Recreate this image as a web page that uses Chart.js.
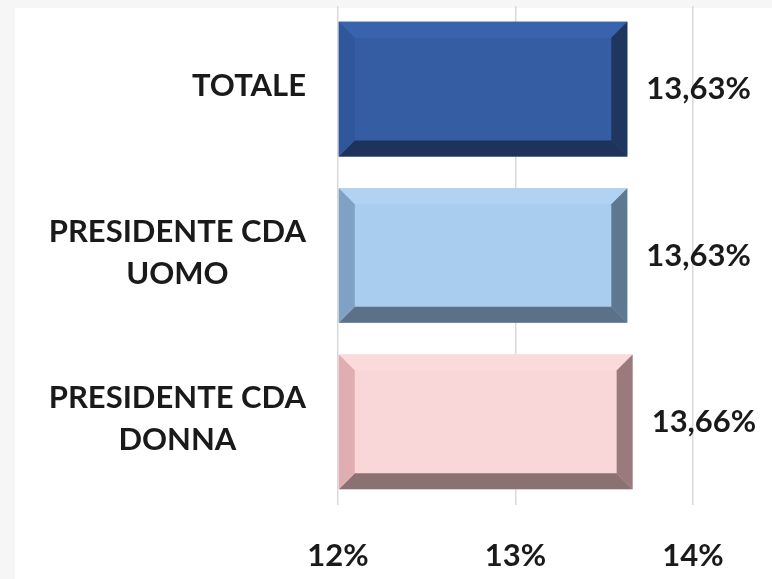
<html>

<head>
  <title>Presidente CDA</title>
  <script src="https://cdn.jsdelivr.net/npm/chart.js"></script>
  <style>
    body { margin: 0; background: #f6f6f6; }
    #sheet { position: absolute; left: 15px; top: 8px; right: 0; bottom: 0; background: #ffffff; }
    #myChart { position: absolute; left: 0; top: 0; }
  </style>
</head>

<body>
  <div id="sheet"></div>
  <canvas id="myChart" width="772" height="579"></canvas>
  <script>
    // data
    let categories = [['TOTALE'], ['PRESIDENTE CDA', 'UOMO'], ['PRESIDENTE CDA', 'DONNA']]
    let values = [13.63, 13.63, 13.66]
    let xTicks = [12, 13, 14]

    // face, top, right, bottom, left
    let barColors = [
      ['#345da4', '#3964ad', '#1f365f', '#1e335a', '#30579c'],
      ['#a9cdee', '#b1d3f1', '#5e7892', '#5a7188', '#7fa1c3'],
      ['#f9d6d7', '#fadadb', '#9b7a7b', '#8c7172', '#e0adb0']
    ]

    let textFont = 'Lato, "Open Sans", sans-serif'

    function poly(ctx, pts, color) {
      ctx.beginPath();
      ctx.moveTo(pts[0][0], pts[0][1]);
      for (let i = 1; i < pts.length; i++) ctx.lineTo(pts[i][0], pts[i][1]);
      ctx.closePath();
      ctx.fillStyle = color;
      ctx.fill();
    }

    const bevelPlugin = {
      id: 'bevel',
      afterDatasetsDraw(chart) {
        const ctx = chart.ctx;
        const meta = chart.getDatasetMeta(0);
        meta.data.forEach((bar, i) => {
          const p = bar.getProps(['x', 'y', 'base', 'height'], true);
          const l = Math.min(p.base, p.x), r = Math.max(p.base, p.x);
          const t = p.y - p.height / 2, b = p.y + p.height / 2;
          const s = 16;
          const c = barColors[i];
          ctx.save();
          poly(ctx, [[l, t], [r, t], [r - s, t + s], [l + s, t + s]], c[1]);
          poly(ctx, [[r, t], [r, b], [r - s, b - s], [r - s, t + s]], c[2]);
          poly(ctx, [[l, b], [r, b], [r - s, b - s], [l + s, b - s]], c[3]);
          poly(ctx, [[l, t], [l + s, t + s], [l + s, b - s], [l, b]], c[4]);

          // value label
          ctx.fillStyle = '#1a1a1a';
          ctx.font = 'bold 31px ' + textFont;
          ctx.textAlign = 'left';
          ctx.textBaseline = 'middle';
          ctx.fillText(values[i].toFixed(2).replace('.', ',') + '%', r + 19, p.y);
          ctx.restore();
        });
      },
      afterDraw(chart) {
        // category labels: block right-aligned, lines centred inside it
        const ctx = chart.ctx;
        const yScale = chart.scales.y;
        ctx.save();
        ctx.fillStyle = '#1a1a1a';
        ctx.font = 'bold 31px ' + textFont;
        ctx.textAlign = 'center';
        ctx.textBaseline = 'middle';
        const right = 306, lineH = 42;
        categories.forEach((lines, i) => {
          const cy = yScale.getPixelForValue(i) - 3;
          const w = Math.max(...lines.map(s => ctx.measureText(s).width));
          const cx = right - w / 2;
          lines.forEach((s, k) => {
            ctx.fillText(s, cx, cy + (k - (lines.length - 1) / 2) * lineH);
          });
        });
        ctx.restore();
      }
    }

    const chart = new Chart(document.getElementById('myChart'), {
      type: 'bar',
      data: {
        labels: categories.map(c => c.join(' ')),
        datasets: [{
          data: values,
          base: xTicks[0],
          backgroundColor: barColors.map(c => c[0]),
          borderWidth: 0,
          barPercentage: 0.9,
          categoryPercentage: 0.9
        }]
      },
      options: {
        indexAxis: 'y',
        responsive: false,
        animation: false,
        devicePixelRatio: 1,
        layout: { padding: { top: 6, right: 79, bottom: 0, left: 0 } },
        plugins: { legend: { display: false }, tooltip: { enabled: false } },
        scales: {
          x: {
            min: xTicks[0],
            max: xTicks[xTicks.length - 1],
            afterBuildTicks: (scale) => { scale.ticks = xTicks.map(v => ({ value: v })) },
            grid: { color: '#d9d9d9', lineWidth: 1.5, drawTicks: false },
            border: { display: false },
            ticks: {
              padding: 32,
              color: '#1a1a1a',
              font: { family: textFont, size: 31, weight: 'bold' },
              callback: v => v + '%'
            },
            afterFit: (scale) => { scale.height = 74 }
          },
          y: {
            grid: { display: false },
            border: { display: false },
            ticks: { display: false },
            afterFit: (scale) => { scale.width = 338 }
          }
        }
      },
      plugins: [bevelPlugin]
    });
  </script>
</body>

</html>
